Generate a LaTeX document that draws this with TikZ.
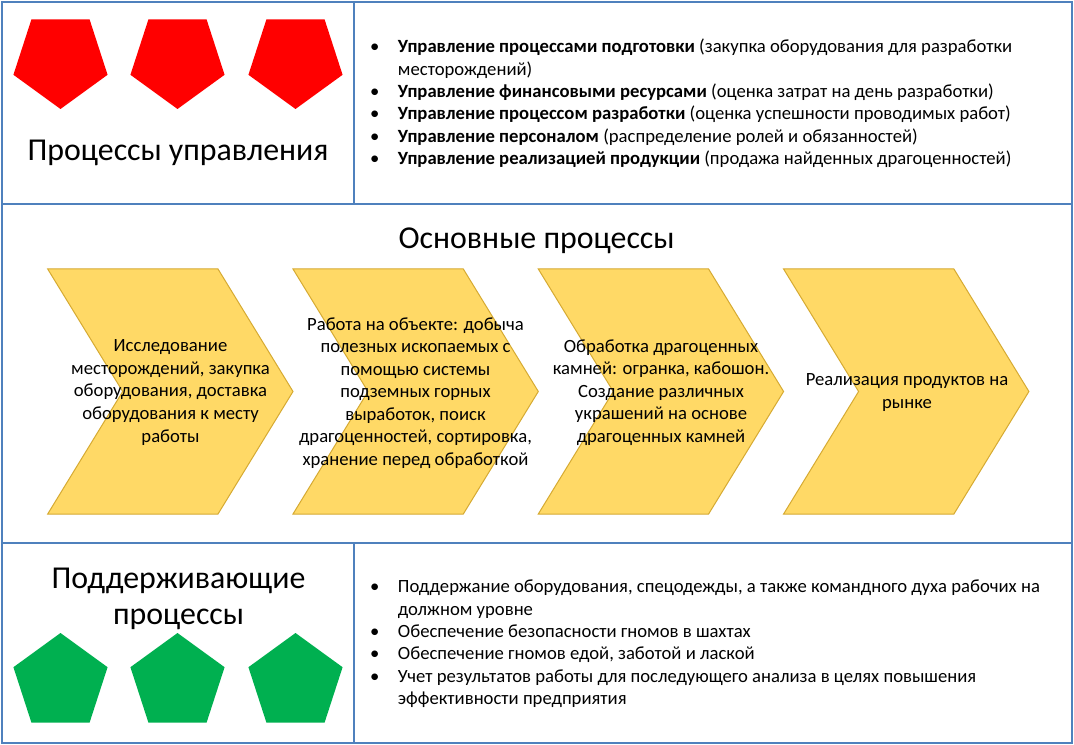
\documentclass[tikz,border=0pt]{standalone}
\usepackage{fontspec}
\setmainfont{Carlito}
\usetikzlibrary{shapes.geometric}
\definecolor{frameblue}{RGB}{79,129,189}
\definecolor{chevfill}{RGB}{255,217,102}
\definecolor{chevdraw}{RGB}{214,170,50}
\definecolor{pentred}{RGB}{255,0,0}
\definecolor{pentgreen}{RGB}{0,176,80}
\newcommand{\bul}{\llap{\textbullet\hspace{14pt}}}
\begin{document}
\begin{tikzpicture}[x=0.75pt,y=-0.75pt,
  frame/.style={draw=frameblue,line width=1.5pt},
  chev/.style={fill=chevfill,draw=chevdraw,line width=0.75pt,line join=miter},
  chevtext/.style={align=center,font=\fontsize{14}{16.9}\selectfont,inner sep=0pt},
  titletext/.style={align=center,font=\fontsize{23.9}{27}\selectfont,inner sep=0pt},
  listtext/.style={align=left,anchor=west,font=\fontsize{14}{16.75}\selectfont,inner sep=0pt},
  pent/.style={regular polygon,regular polygon sides=5,minimum size=74.25pt,inner sep=0pt,outer sep=0pt,draw=none}]
\useasboundingbox (0,0) rectangle (1074,745);
\fill[white] (0,0) rectangle (1074,745);
% frames
\draw[frame] (2,2) rectangle (354,204);
\draw[frame] (354,2) rectangle (1071.5,204);
\draw[frame] (2,204) rectangle (1071.5,543);
\draw[frame] (2,543) rectangle (354,742.5);
\draw[frame] (354,543) rectangle (1071.5,742.5);
% red pentagons
\node[pent,fill=pentred,shape border rotate=180] (r1) at (60.5,59.5) {};
\node[pent,fill=pentred,shape border rotate=180] (r2) at (177.5,59.5) {};
\node[pent,fill=pentred,shape border rotate=180] (r3) at (295.5,59.5) {};
\node[titletext] (t1) at (178,152.5) {Процессы управления};
% top list
\node[listtext] (l1) at (397.7,103.5) {\bul\textbf{Управление процессами подготовки} (закупка оборудования для разработки\\
месторождений)\\
\bul\textbf{Управление финансовыми ресурсами} (оценка затрат на день разработки)\\
\bul\textbf{Управление процессом разработки} (оценка успешности проводимых работ)\\
\bul\textbf{Управление персоналом} (распределение ролей и обязанностей)\\
\bul\textbf{Управление реализацией продукции} (продажа найденных драгоценностей)};
% main processes
\node[titletext] (t2) at (536.5,241) {Основные процессы};
\foreach \x in {47.7,293,538.3,783.6}{
  \draw[chev] (\x,269) -- ++(170.3,0) -- ++(75,122.5) -- ++(-75,122.5) -- ++(-170.3,0) -- ++(75,-122.5) -- cycle;
}
\node[chevtext] (c1) at (170.5,392.5) {Исследование\\месторождений, закупка\\оборудования, доставка\\оборудования к месту\\работы};
\node[chevtext] (c2) at (415.5,393) {Работа на объекте: добыча\\полезных ископаемых с\\помощью системы\\подземных горных\\выработок, поиск\\драгоценностей, сортировка,\\хранение перед обработкой};
\node[chevtext] (c3) at (661,392.5) {Обработка драгоценных\\камней: огранка, кабошон.\\Создание различных\\украшений на основе\\драгоценных камней};
\node[chevtext] (c4) at (907,392.5) {Реализация продуктов на\\рынке};
% supporting
\node[titletext] (t3) at (178.5,598.5) {Поддерживающие\\процессы};
\node[pent,fill=pentgreen] (g1) at (60.5,682.5) {};
\node[pent,fill=pentgreen] (g2) at (177.5,682.5) {};
\node[pent,fill=pentgreen] (g3) at (295.5,682.5) {};
\node[listtext] (l2) at (397.7,643.9) {\bul Поддержание оборудования, спецодежды, а также командного духа рабочих на\\
должном уровне\\
\bul Обеспечение безопасности гномов в шахтах\\
\bul Обеспечение гномов едой, заботой и лаской\\
\bul Учет результатов работы для последующего анализа в целях повышения\\
эффективности предприятия};
\end{tikzpicture}
\end{document}
